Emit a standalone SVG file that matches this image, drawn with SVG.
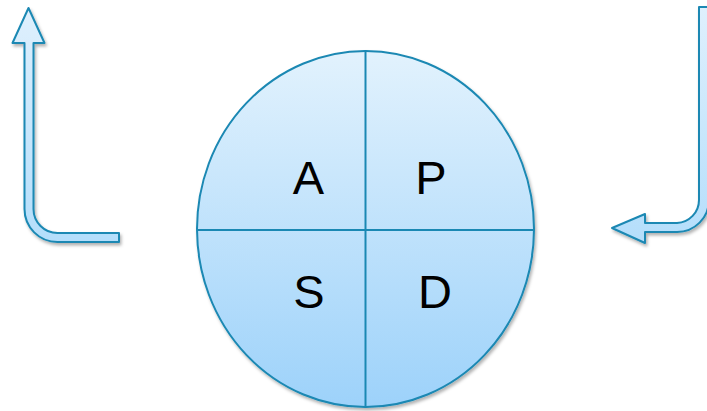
<svg xmlns="http://www.w3.org/2000/svg" width="707" height="411" viewBox="0 0 707 411">
<defs>
<linearGradient id="g" x1="0" y1="0" x2="0" y2="1">
<stop offset="0" stop-color="#e2f2fd"/>
<stop offset="1" stop-color="#9dd2fa"/>
</linearGradient>
<linearGradient id="ga" x1="0" y1="0" x2="0" y2="1">
<stop offset="0" stop-color="#dff0fd"/>
<stop offset="1" stop-color="#b4defb"/>
</linearGradient>
<filter id="sh" x="-20%" y="-20%" width="140%" height="140%">
<feDropShadow dx="1.5" dy="2.5" stdDeviation="1.8" flood-color="#000" flood-opacity="0.3"/>
</filter>
</defs>
<style>
.shape{stroke:#1a88b3;stroke-width:2;stroke-linejoin:round}
.arrow{fill:url(#ga)}
.div{stroke:#1a88b3;stroke-width:2;fill:none}
.lbl{font-family:"Liberation Sans",Arial,sans-serif;font-size:47px;fill:#000;text-anchor:middle}
</style>
<g id="cycle">
<ellipse class="shape" cx="365.5" cy="229" rx="168.5" ry="178" fill="url(#g)" filter="url(#sh)"/>
<line class="div" x1="365.5" y1="51" x2="365.5" y2="407"/>
<line class="div" x1="197" y1="230" x2="534" y2="230"/>
</g>
<g id="quadrant-A"><text class="lbl" x="308.5" y="194">A</text></g>
<g id="quadrant-P"><text class="lbl" x="431" y="194">P</text></g>
<g id="quadrant-S"><text class="lbl" x="309" y="308">S</text></g>
<g id="quadrant-D"><text class="lbl" x="435" y="308">D</text></g>
<g id="connectors">
<path id="arrow-left" class="shape arrow" filter="url(#sh)" d="M33.5,43 L33.5,209 A24,24 0 0 0 57.5,233 L119,233 L119,242 L57.5,242 A33,33 0 0 1 24.5,209 L24.5,43 L12.5,43 L28.5,8 L44.5,43 Z"/>
<path id="arrow-right" class="shape arrow" filter="url(#sh)" d="M699,7 L709,7 L709,200 A32,32 0 0 1 677,232 L645,232 L645,243 L612,228 L645,214 L645,223 L677,223 A23,23 0 0 0 699,200 Z"/>
</g>
</svg>
